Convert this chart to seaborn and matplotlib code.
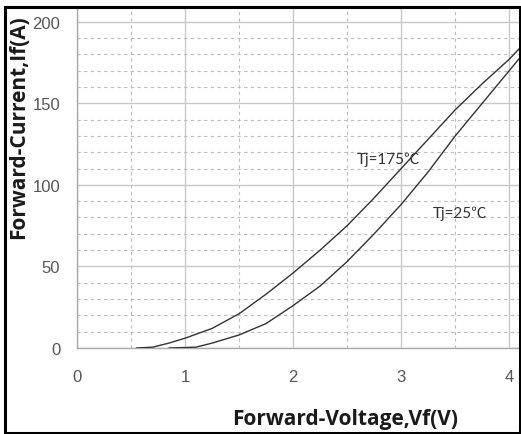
import matplotlib
matplotlib.use("Agg")
import matplotlib.pyplot as plt
import seaborn as sns
import pandas as pd
from matplotlib.patches import Rectangle
from matplotlib.ticker import MultipleLocator

# Data
v_175 = [0.55, 0.7, 0.85, 1.0, 1.25, 1.5, 1.75, 2.0, 2.25, 2.5, 2.75, 3.0, 3.25, 3.5, 3.75, 4.0, 4.1]
i_175 = [0, 0.5, 3, 6, 12, 21, 33, 46, 60, 75, 92, 110, 128, 146, 162, 177, 184]
v_25 = [0.85, 1.1, 1.25, 1.5, 1.75, 2.0, 2.25, 2.5, 2.75, 3.0, 3.25, 3.5, 3.75, 4.0, 4.1]
i_25 = [0, 0.5, 3, 8, 15, 26, 38, 53, 70, 88, 108, 130, 150, 170, 178]
x_ticks = [0, 1, 2, 3, 4]
y_ticks = [0, 50, 100, 150, 200]
label_175 = "Tj=175℃"
label_25 = "Tj=25℃"

df = pd.DataFrame({
    "Vf": v_175 + v_25,
    "If": i_175 + i_25,
    "Tj": [label_175] * len(v_175) + [label_25] * len(v_25),
})

sns.set_style("white")
plt.rcParams['font.family'] = ['DejaVu Sans', 'Noto Sans CJK SC']

fig = plt.figure(figsize=(5.21, 4.35), dpi=100)
W, H = 521, 435
ax = fig.add_axes([77 / W, (H - 349) / H, (519 - 77) / W, (349 - 8) / H])

sns.lineplot(data=df, x="Vf", y="If", hue="Tj", palette={label_175: "#333333", label_25: "#333333"},
             linewidth=1.0, legend=False, ax=ax, sort=False, estimator=None, zorder=3)

ax.set_xlim(0, 4.09)
ax.set_ylim(0, 209)
ax.set_xticks(x_ticks)
ax.set_yticks(y_ticks)
ax.xaxis.set_minor_locator(MultipleLocator(0.5))
ax.yaxis.set_minor_locator(MultipleLocator(10))
ax.grid(which="major", color="#c8c8c8", linewidth=1.0, linestyle="-", zorder=0)
ax.grid(which="minor", color="#bdbdbd", linewidth=0.8, linestyle=(0, (3, 3)), zorder=0)
ax.set_axisbelow(True)

for s in ["top", "right"]:
    ax.spines[s].set_visible(False)
for s in ["left", "bottom"]:
    ax.spines[s].set_color("#aaaaaa")
    ax.spines[s].set_linewidth(1.0)

ax.tick_params(axis="both", which="major", length=4, width=1, color="#aaaaaa",
               labelcolor="#555555", labelsize=12)
ax.tick_params(axis="both", which="minor", length=0)
ax.tick_params(axis="x", pad=11)
ax.tick_params(axis="y", pad=8)
for t in ax.get_xticklabels() + ax.get_yticklabels():
    t.set_family("Liberation Sans")

ax.set_xlabel("Forward-Voltage,Vf(V)", fontsize=15, fontweight="bold", family="Open Sans", color="#1a1a1a")
ax.set_ylabel("Forward-Current,If(A)", fontsize=15, fontweight="bold", family="Open Sans", color="#1a1a1a")
ax.xaxis.set_label_coords((345 - 77) / (519 - 77), -(420 - 349) / (349 - 8))
ax.yaxis.set_label_coords(-(77 - 19) / (519 - 77), (349 - 127) / (349 - 8))
ax.xaxis.label.set_va("center")
ax.yaxis.label.set_va("center")

ax.text(2.59, 116, label_175, fontsize=11, family=["Lato", "Noto Sans CJK SC"], color="#333333",
        va="center", ha="left")
ax.text(3.29, 83, label_25, fontsize=11, family=["Lato", "Noto Sans CJK SC"], color="#333333",
        va="center", ha="left")

fig.patches.append(Rectangle((5 / W, 1 / H), (520 - 5) / W, (434 - 8) / H, transform=fig.transFigure,
                             fill=False, edgecolor="black", linewidth=2.2, zorder=10))

fig.savefig("out.png", dpi=100)
